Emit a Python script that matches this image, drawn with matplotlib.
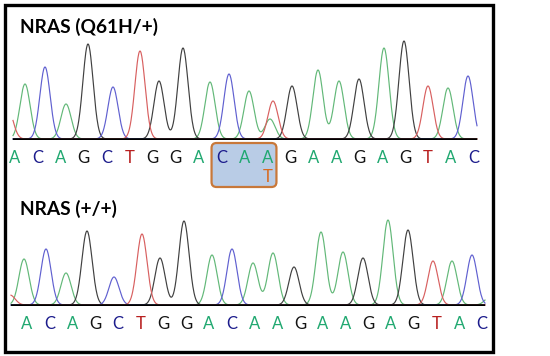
import numpy as np
import matplotlib
matplotlib.use("Agg")
import matplotlib.pyplot as plt
from matplotlib.patches import FancyBboxPatch, Rectangle

# ---------------- data ----------------
sequence = list("ACAGCTGGACAAGAAGAGTAC")
title_top = "NRAS (Q61H/+)"
title_bottom = "NRAS (+/+)"
mut_index = 11
mut_base = "T"
highlight = (9, 11)

# peaks: position (scan), height, channel
top_pos = [8, 25, 45, 66, 88, 113, 140, 159, 183, 210, 229, 249, 270, 273,
           292, 318, 339, 359, 384, 404, 428, 448, 468]
top_hgt = [30, 55, 72, 35, 95, 52, 88, 58, 91, 57, 65, 48, 20, 38,
           53, 69, 58, 60, 91, 98, 53, 51, 63]
top_ch = list("TACAGCTGGACAATGAAGAGTAC")

bot_pos = [10, 24, 46, 66, 87, 114, 142, 160, 184, 212, 232, 253, 273,
           294, 321, 343, 363, 388, 408, 433, 452, 472, 490]
bot_hgt = [10, 46, 56, 32, 74, 28, 71, 47, 84, 50, 56, 42, 52,
           38, 73, 53, 47, 85, 75, 44, 44, 50, 8]
bot_ch = list("TACAGCTGGACAAGAAGAGTACA")

trace_col = {"A": "#62b878", "C": "#6060d0", "G": "#404040", "T": "#d86060"}
text_col = {"A": "#20a870", "C": "#1c1c8c", "G": "#141414", "T": "#b82020"}

fig = plt.figure(figsize=(5.5, 3.56), dpi=100)
W, H = 550, 356


def panel(base_y, x0, x1, pos, hgt, ch, lx0, lx1, title, title_y, sigma=5.1):
    ax = fig.add_axes([0, (H - base_y) / H, 1, 110 / H])
    ax.set_xlim(0, W)
    ax.set_ylim(0, 110)
    ax.axis("off")
    x = np.linspace(x0, x1, 1200)
    for b in "AGCT":
        y = np.zeros_like(x)
        for p, h, c in zip(pos, hgt, ch):
            if c == b:
                y += h * np.exp(-0.5 * ((x - p) / sigma) ** 2)
        ax.plot(x, y + 1.0, color=trace_col[b], lw=0.85, zorder=2)
    ax.plot([x0, x1], [0, 0], color="black", lw=2.6, solid_capstyle="butt", zorder=3)
    lx = np.linspace(lx0, lx1, len(sequence))
    for xi, s in zip(lx, sequence):
        ax.text(xi, -18, s, color=text_col[s], fontsize=12, family="Lato",
                ha="center", va="center", clip_on=False, zorder=5)
    ax.text(20, base_y - title_y, title, fontsize=13.8, family="Lato",
            fontweight="bold", ha="left", va="center", clip_on=False)
    return ax, lx


ax_top, lx_top = panel(140, 13, 477, top_pos, top_hgt, top_ch, 15, 474,
                       title_top, 27)
# highlight box around codon
i0, i1 = highlight
bx0 = lx_top[i0] - 10
bx1 = lx_top[i1] + 9
box = FancyBboxPatch((bx0 + 4, -47 + 4), (bx1 - bx0) - 8, 44 - 8,
                     boxstyle="round,pad=4,rounding_size=5",
                     facecolor="#b9cce6", edgecolor="#c8783a", lw=1.6,
                     clip_on=False, zorder=1)
ax_top.add_patch(box)
ax_top.text(lx_top[mut_index], -37, mut_base, color="#d86a20", fontsize=12,
            family="Lato", ha="center", va="center", clip_on=False, zorder=5)

panel(306, 11, 485, bot_pos, bot_hgt, bot_ch, 27, 482, title_bottom, 209)

# outer frame
fig.patches.append(Rectangle((4.5 / W, 4.5 / H), (493 - 4.5) / W, (353 - 4.5 - 2) / H,
                             transform=fig.transFigure, fill=False,
                             edgecolor="black", lw=2.4))

fig.savefig("out.png", dpi=100)
